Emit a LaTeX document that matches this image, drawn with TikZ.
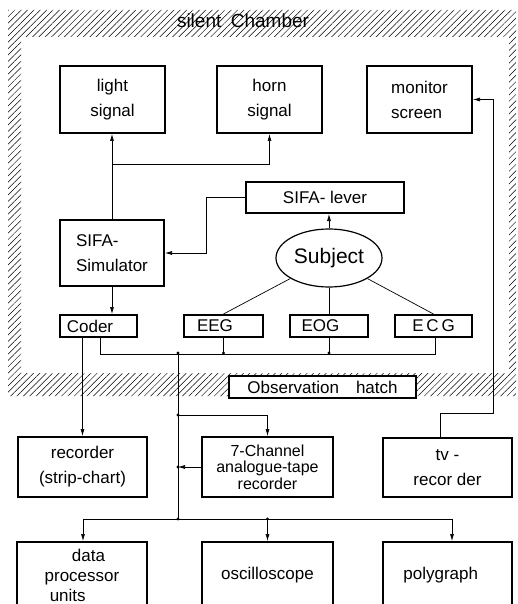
\documentclass[tikz,border=0pt]{standalone}
\usepackage{fontspec}
\setmainfont{Liberation Sans}
\usepackage{tikz}
\usetikzlibrary{shapes.geometric,arrows.meta,positioning,patterns.meta}

\begin{document}
\begin{tikzpicture}[
    x=1pt, y=-1pt,
    font=\fontsize{17}{25}\selectfont,
    einheit/.style={rectangle, draw, line width=2pt, inner sep=2pt, align=center},
    klein/.style={einheit, minimum height=22pt, anchor=center},
    person/.style={ellipse, draw, line width=1.2pt, minimum width=106pt, minimum height=58pt, inner sep=0pt},
    leitung/.style={draw, line width=0.7pt},
    pfeil/.style={leitung, -{Latex[length=7pt,width=4pt]}},
    punkt/.style={circle, fill, inner sep=0pt, minimum size=3.2pt}
  ]
    \useasboundingbox (0,0) rectangle (517,604);
    % silent chamber walls
    \fill[pattern={Lines[angle=45,distance=4.5pt,line width=0.5pt]}, even odd rule]
      (8,10) rectangle (516,396) (21,37) rectangle (509,373);
    \node[font=\fontsize{19}{19}\selectfont] (kammer) at (243,21) {silent\enspace Chamber};
    \node[einheit, fill=white, minimum width=187pt, minimum height=22pt] (hatch) at (322.5,387) {Observation\quad hatch};

    % inside the chamber
    \node[einheit, minimum width=105pt, minimum height=67pt] (light) at (112.5,99.5) {light\\signal};
    \node[einheit, minimum width=105pt, minimum height=67pt] (horn) at (269.5,99.5) {horn\\signal};
    \node[einheit, minimum width=105pt, minimum height=67pt, align=left] (monitor) at (419.5,99.5) {monitor\hspace{1.2em}\\screen};
    \node[einheit, minimum width=158pt, minimum height=31pt] (lever) at (325,197.5) {SIFA- lever};
    \node[einheit, minimum width=104pt, minimum height=66pt, align=left] (sim) at (112,253) {SIFA-\\Simulator};
    \node[person, font=\fontsize{21}{21}\selectfont] (subject) at (329,258) {Subject};
    \node[klein, minimum width=77pt] (coder) at (98.5,326) {Coder\hspace{1em}};
    \node[klein, minimum width=79pt] (eeg) at (223.5,326) {EEG\hspace{1em}};
    \node[klein, minimum width=78pt] (eog) at (329,326) {EOG\hspace{1em}};
    \node[klein, minimum width=77pt] (ecg) at (433.5,326) {E\,C\,G};

    % outside the chamber
    \node[einheit, minimum width=129pt, minimum height=60pt] (recorder) at (82.5,467) {recorder\\(strip-chart)};
    \node[einheit, minimum width=131pt, minimum height=60pt, font=\fontsize{16}{16.5}\selectfont] (tape) at (267.5,467) {7-Channel\\analogue-tape\\recorder};
    \node[einheit, minimum width=129pt, minimum height=59pt] (tv) at (447.5,467.5) {tv -\\recor der};
    \node[einheit, minimum width=130pt, minimum height=66pt, align=left, font=\fontsize{17}{20}\selectfont] (data) at (82,575) {\hspace{1.6em}data\\processor\\\hspace{0.3em}units};
    \node[einheit, minimum width=131pt, minimum height=66pt] (osc) at (267.5,575) {oscilloscope};
    \node[einheit, minimum width=129pt, minimum height=66pt] (poly) at (447.5,575) {polygraph\hspace{0.8em}};

    \coordinate (split) at (112,164);
    \coordinate (bus) at (178,353);
    \coordinate (tap) at (178,415);
    \coordinate (dist) at (178,519);
    \coordinate (tvbend) at (493,413);

    % signals inside
    \draw[pfeil] (sim.north) -- (sim.north |- light.south);
    \draw[pfeil] (split) -| (horn.south);
    \draw[pfeil] (lever.west) -- ++(-39,0) |- (sim.east);
    \draw[pfeil] (subject.north) -- (subject.north |- lever.south);
    \draw[pfeil] (sim.south) -- (sim.south |- coder.north);
    \draw[leitung] (subject) -- (eeg.north);
    \draw[leitung] (subject) -- (eog.north);
    \draw[leitung] (subject) -- (ecg.north);
    \draw[leitung] ([xshift=1.5pt]coder.south) -- ++(0,16) -| ([xshift=1.5pt]ecg.south);
    \draw[leitung] (eeg.south) -- (eeg.south |- bus) node[punkt] {};
    \draw[leitung] (eog.south) -- (eog.south |- bus) node[punkt] {};

    % lines out of the chamber
    \draw[pfeil] (recorder.north |- coder.south) -- (recorder.north);
    \draw[leitung] (bus) node[punkt] {} -- (dist) node[punkt] {};
    \draw[pfeil] (tap) node[punkt] {} -| (tape.north);
    \draw[pfeil] (tape.west) -- (tape.west -| tap) node[punkt] {};
    \draw[pfeil] (dist) -| ([xshift=1pt]data.north);
    \draw[pfeil] (dist) -| ([xshift=4.5pt]poly.north);
    \draw[pfeil] (osc.north |- dist) node[punkt] {} -- (osc.north);
    \draw[pfeil] ([xshift=-7.5pt]tv.north) |- (tvbend) |- (monitor.east);
  \end{tikzpicture}
\end{document}
